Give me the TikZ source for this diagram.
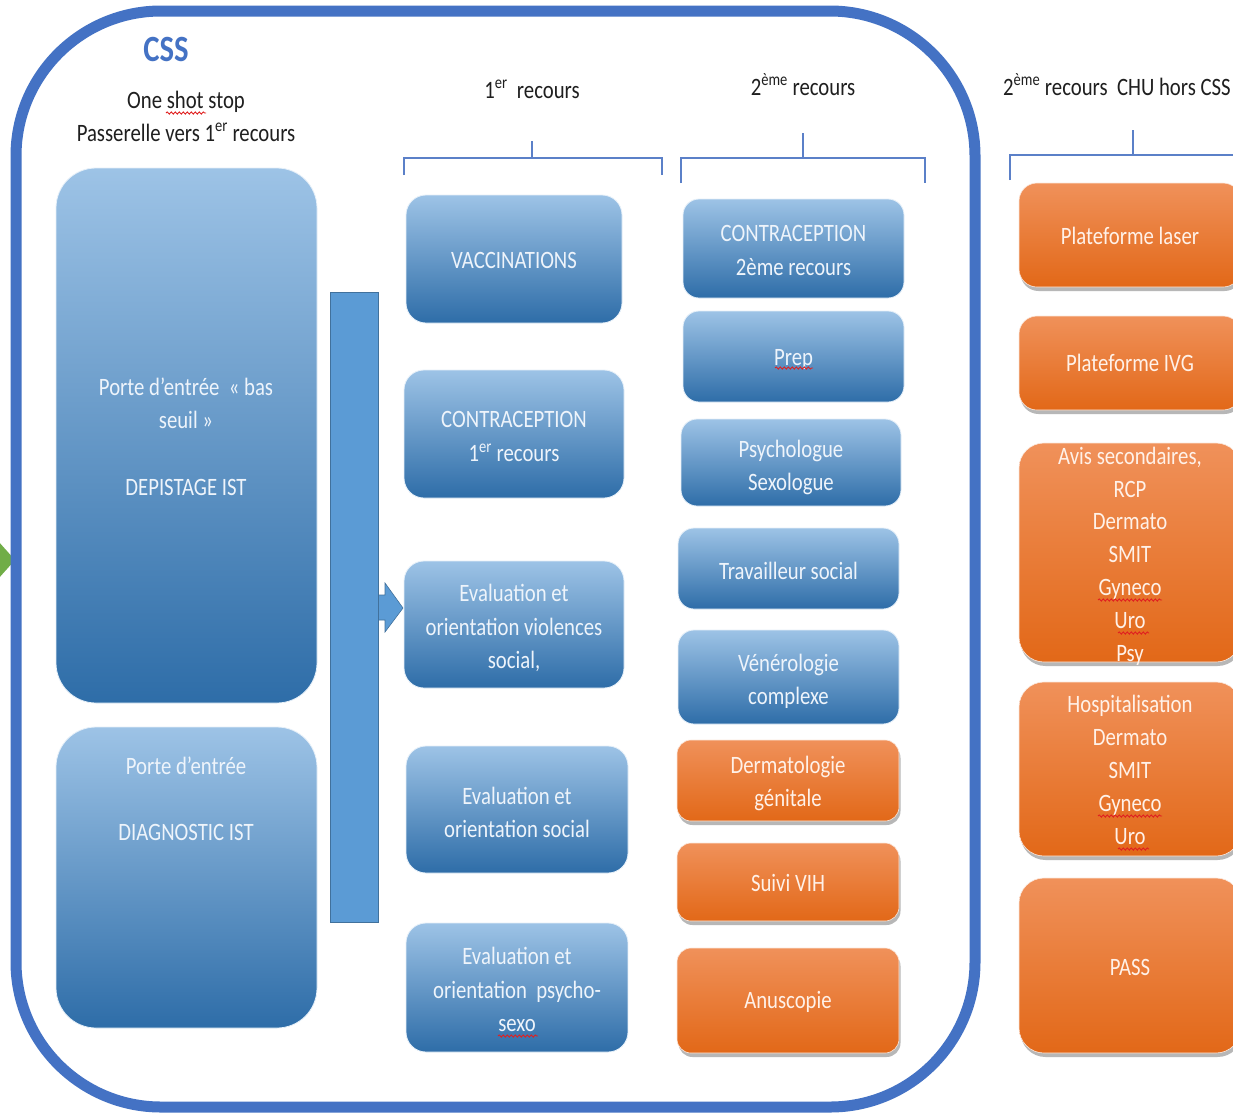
\documentclass[tikz,border=0pt]{standalone}
\usepackage{fontspec}
\setmainfont[FakeStretch=0.83]{Carlito}
\usetikzlibrary{shadows,decorations.pathmorphing}
\definecolor{cssblue}{HTML}{4472C4}
\definecolor{btop}{HTML}{9DC3E6}
\definecolor{bbot}{HTML}{2E6DA8}
\definecolor{otop}{HTML}{F0915A}
\definecolor{obot}{HTML}{E26818}
\definecolor{barblue}{HTML}{5B9BD5}
\definecolor{bardraw}{HTML}{41719C}
\definecolor{txtb}{HTML}{EEF4FB}
\definecolor{txto}{HTML}{FFF1E8}
\definecolor{hdr}{HTML}{1F1F1F}
\definecolor{brk}{HTML}{5B80C8}
\definecolor{spell}{HTML}{E02020}
\definecolor{arrgreen}{HTML}{70AD47}
\begin{document}
\begin{tikzpicture}[x=1pt,y=-1pt,
  bluebox/.style={shape=rectangle, top color=btop, bottom color=bbot, draw=white!75!btop, line width=0.8pt, rounded corners=#1, inner sep=0pt},
  bluebox/.default=16pt,
  orangebox/.style={shape=rectangle, top color=otop, bottom color=obot, draw=white!80!otop, line width=0.6pt, rounded corners=#1, inner sep=0pt,
     drop shadow={shadow xshift=1.5pt, shadow yshift=-4pt, opacity=0.4, fill=black!70}},
  orangebox/.default=14pt,
  txt/.style={align=center, font=\fontsize{25}{33.3}\selectfont, execute at begin node=\strut, execute at end node=\strut, inner sep=0pt, yshift=-4.5pt},
  btxt/.style={txt, text=txtb},
  otxt/.style={txt, text=txto},
  hdrtxt/.style={font=\fontsize{25}{33.3}\selectfont, text=hdr, inner sep=0pt, anchor=base},
  bracket/.style={draw=brk, line width=1.8pt},
  spellmark/.style={draw=spell, line width=0.9pt, decorate, decoration={snake, amplitude=1.1pt, segment length=4pt}}
]
\useasboundingbox (0,0) rectangle (1233,1114);
\clip (0,0) rectangle (1233,1114);
\fill[white] (0,0) rectangle (1233,1114);

% green arrow entering from the left
\fill[arrgreen] (-10,532) -- (15,560) -- (-10,588) -- cycle;

% CSS container
\node[draw=cssblue, line width=11pt, rounded corners=145pt, minimum width=959pt, minimum height=1096pt, inner sep=0pt] (css) at (495.5,559) {};

% headers
\node[font=\bfseries\fontsize{37}{40}\selectfont, text=cssblue, inner sep=0pt] (csst) at (166,49) {CSS};
\node[hdrtxt] (h0a) at (186,108) {One shot stop};
\node[hdrtxt] (h0b) at (186,141) {Passerelle vers 1\textsuperscript{er} recours};
\node[hdrtxt] (h1) at (532,98) {1\textsuperscript{er}\ \ recours};
\node[hdrtxt] (h2) at (803,95) {2\textsuperscript{ème} recours};
\node[hdrtxt, anchor=base west] (h3) at (1003,95) {2\textsuperscript{ème} recours\ \ CHU hors CSS};

% brackets
\draw[bracket] (404,175) -- (404,158) -- (662,158) -- (662,175);
\draw[bracket] (532,158) -- (532,141);
\draw[bracket] (681,183) -- (681,158) -- (925,158) -- (925,183);
\draw[bracket] (803,158) -- (803,133);
\draw[bracket] (1010,180) -- (1010,155) -- (1250,155);
\draw[bracket] (1133,155) -- (1133,130);

% left column
\node[bluebox=40pt, minimum width=261pt, minimum height=535pt] (p1) at (186.5,435.5) {};
\node[btxt] (p1t) at (186,437) {Porte d’entrée\ \ « bas\\seuil »\\[33.3pt]DEPISTAGE IST};
\node[bluebox=40pt, minimum width=261pt, minimum height=301pt] (p2) at (186.5,877.5) {};
\node[btxt] (p2t) at (186,799) {Porte d’entrée\\[33.3pt]DIAGNOSTIC IST};

% vertical bar and block arrow
\draw[fill=barblue, draw=bardraw, line width=0.6pt] (372,595) -- (385,595) -- (385,583) -- (403,608) -- (385,632) -- (385,620) -- (372,620) -- cycle;
\node[fill=barblue, draw=bardraw, line width=0.6pt, minimum width=48pt, minimum height=630pt, inner sep=0pt] (bar) at (354,607) {};

% 1er recours column
\node[bluebox=20pt, minimum width=216pt, minimum height=128pt] (vac) at (514,259) {};
\node[btxt] at (514,257) {VACCINATIONS};
\node[bluebox=20pt, minimum width=220pt, minimum height=128pt] (c1) at (514,434) {};
\node[btxt] at (514,437) {CONTRACEPTION\\1\textsuperscript{er} recours};
\node[bluebox=20pt, minimum width=220pt, minimum height=127pt] (evv) at (514,624.5) {};
\node[btxt] at (514,627) {Evaluation et\\orientation violences\\social,};
\node[bluebox=20pt, minimum width=222pt, minimum height=127pt] (evs) at (517,809.5) {};
\node[btxt] at (517,812.5) {Evaluation et\\orientation social};
\node[bluebox=20pt, minimum width=222pt, minimum height=129pt] (evp) at (517,987.5) {};
\node[btxt] at (517,990) {Evaluation et\\orientation\ \ psycho-\\sexo};

% 2eme recours column
\node[bluebox, minimum width=221pt, minimum height=99pt] (c2) at (793.5,248.5) {};
\node[btxt] at (793.5,251) {CONTRACEPTION\\2ème recours};
\node[bluebox, minimum width=221pt, minimum height=91pt] (prep) at (793.5,356.5) {};
\node[btxt] at (793.5,354) {Prep};
\node[bluebox, minimum width=220pt, minimum height=87pt] (psy) at (791,462.5) {};
\node[btxt] at (791,465.5) {Psychologue\\Sexologue};
\node[bluebox, minimum width=221pt, minimum height=81pt] (ts) at (788.5,568.5) {};
\node[btxt] at (788.5,568) {Travailleur social};
\node[bluebox, minimum width=221pt, minimum height=94pt] (ven) at (788.5,677) {};
\node[btxt] at (788.5,679.5) {Vénérologie\\complexe};
\node[orangebox, minimum width=222pt, minimum height=81pt] (derm) at (788,780.5) {};
\node[otxt] at (788,781.5) {Dermatologie\\génitale};
\node[orangebox, minimum width=222pt, minimum height=78pt] (vih) at (788,882) {};
\node[otxt] at (788,880) {Suivi VIH};
\node[orangebox, minimum width=222pt, minimum height=105pt] (anu) at (788,1000.5) {};
\node[otxt] at (788,997) {Anuscopie};

% CHU hors CSS column
\node[orangebox=18pt, minimum width=222pt, minimum height=104pt] (laser) at (1130,235) {};
\node[otxt] at (1130,233) {Plateforme laser};
\node[orangebox=18pt, minimum width=222pt, minimum height=94pt] (ivg) at (1130,363) {};
\node[otxt] at (1130,360) {Plateforme IVG};
\node[orangebox=25pt, minimum width=222pt, minimum height=219pt] (avis) at (1130,552.5) {};
\node[otxt, font=\fontsize{25}{32.8}\selectfont] at (1130,554.5) {Avis secondaires,\\RCP\\Dermato\\SMIT\\Gyneco\\Uro\\Psy};
\node[orangebox=25pt, minimum width=222pt, minimum height=174pt] (hosp) at (1130,769) {};
\node[otxt, font=\fontsize{25}{33}\selectfont] at (1130,770) {Hospitalisation\\Dermato\\SMIT\\Gyneco\\Uro};
\node[orangebox=25pt, minimum width=222pt, minimum height=175pt] (pass) at (1130,965.5) {};
\node[otxt] at (1130,964) {PASS};

% spell-check wavy underlines
\draw[spellmark] (166,113) -- (206,113);
\draw[spellmark] (775,368) -- (813,368);
\draw[spellmark] (498,1036) -- (538,1036);
\draw[spellmark] (1098,600) -- (1162,600);
\draw[spellmark] (1118,633) -- (1149,633);
\draw[spellmark] (1098,816) -- (1162,816);
\draw[spellmark] (1118,849) -- (1149,849);
\end{tikzpicture}
\end{document}
